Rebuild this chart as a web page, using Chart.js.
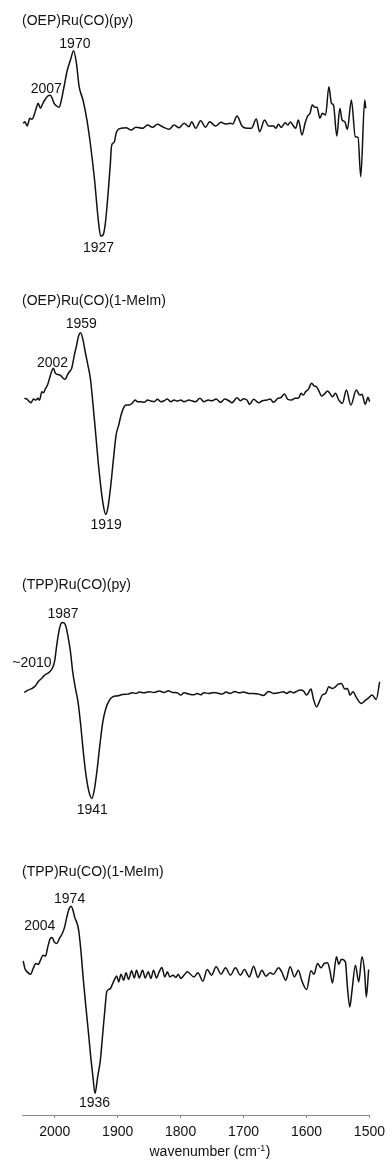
<!DOCTYPE html>
<html>
<head>
<meta charset="utf-8">
<title>Ru carbonyl porphyrin IR difference spectra</title>
<script src="https://cdn.jsdelivr.net/npm/chart.js@4.4.1/dist/chart.umd.min.js"></script>
<style>
  html, body { margin: 0; padding: 0; background: #fff; }
  #wrap { width: 391px; height: 1160px; }
</style>
</head>
<body>
<div id="wrap"><canvas id="irChart" width="391" height="1160"></canvas></div>
<script>
/* ---------- data ---------- */
const names = ['(OEP)Ru(CO)(py)', '(OEP)Ru(CO)(1-MeIm)', '(TPP)Ru(CO)(py)', '(TPP)Ru(CO)(1-MeIm)'];
const xTicks = [2000, 1900, 1800, 1700, 1600, 1500];

// wavenumber (cm-1) / difference intensity (arb. units)
const s1Wn = [
	2050.1, 2047.4, 2043.8, 2039.5, 2035.9, 2032.7, 2028.9, 2026.4, 2022.6, 2019.4,
	2015.8, 2011.0, 2007.0, 2004.0, 2001.1, 1996.8, 1993.2, 1989.4, 1984.7, 1980.0,
	1975.0, 1970.0, 1965.5, 1961.2, 1955.1, 1948.8, 1942.8, 1936.7, 1930.8, 1927.0,
	1923.2, 1919.6, 1915.2, 1911.6, 1909.9, 1907.9, 1905.2, 1902.5, 1898.9, 1894.6,
	1886.7, 1878.8, 1870.9, 1860.5, 1852.6, 1844.7, 1836.8, 1828.9, 1818.3, 1810.4,
	1802.5, 1794.6, 1786.6, 1782.4, 1776.1, 1768.2, 1760.3, 1754.0, 1744.5, 1735.7,
	1728.7, 1720.8, 1717.2, 1710.4, 1702.5, 1694.6, 1687.6, 1679.7, 1674.5, 1666.6,
	1660.3, 1652.4, 1648.8, 1644.5, 1640.2, 1633.9, 1629.8, 1625.5, 1621.9, 1617.2,
	1612.9, 1607.1, 1602.3, 1598.2, 1594.4, 1590.8, 1586.5, 1583.3, 1578.6, 1575.0,
	1569.7, 1564.4, 1560.3, 1557.1, 1551.8, 1547.0, 1543.4, 1539.1, 1535.0, 1528.7,
	1522.4, 1518.1, 1513.8, 1507.5, 1505.9
];
const s1Val = [
	3.7, 5.3, 1.0, 8.7, 7.7, 12.0, 19.7, 23.7, 18.7, 23.0,
	27.0, 31.0, 31.7, 28.7, 23.7, 21.0, 19.7, 27.0, 42.0, 57.0,
	67.0, 76.3, 63.7, 40.3, 27.0, 7.0, -19.7, -53.0, -93.0, -109.0,
	-108.0, -96.3, -66.3, -36.3, -19.7, -16.3, -14.7, -6.3, -2.3, -1.3,
	-0.7, -3.0, -0.3, -1.3, 2.0, -0.3, 2.7, 0.3, -2.3, 2.0,
	-0.7, 3.7, 0.3, 5.3, -1.3, 6.3, -0.3, 5.3, 1.0, 4.7,
	3.0, 3.7, 3.0, 11.0, 1.0, -1.3, -1.3, 8.0, -4.7, 7.0,
	1.0, 1.0, -1.3, 2.7, -0.3, 4.3, 2.0, 5.0, 2.0, -1.3,
	7.0, -8.0, 3.7, 11.0, 13.7, 22.0, 19.7, 19.7, 8.7, 13.7,
	12.0, 40.3, 23.7, 22.0, -9.0, 18.7, 7.0, 5.3, -2.3, 27.0,
	-9.7, -10.3, -49.7, 27.0, 18.7
];

const s2Wn = [
	2048.3, 2044.2, 2037.9, 2033.6, 2030.0, 2026.8, 2024.1, 2020.5, 2017.8, 2015.1,
	2011.5, 2008.3, 2004.7, 2002.0, 1999.3, 1995.7, 1991.4, 1987.3, 1983.5, 1979.9,
	1976.7, 1973.1, 1968.8, 1965.2, 1962.5, 1959.0, 1955.6, 1951.6, 1947.3, 1943.4,
	1939.1, 1935.2, 1931.0, 1927.1, 1922.9, 1919.0, 1915.3, 1910.9, 1906.6, 1902.5,
	1898.4, 1894.6, 1891.0, 1886.7, 1881.5, 1877.2, 1872.0, 1868.4, 1863.0, 1857.8,
	1852.6, 1847.2, 1842.0, 1836.8, 1831.4, 1826.2, 1821.0, 1815.6, 1810.4, 1805.2,
	1799.8, 1794.6, 1786.7, 1781.5, 1776.1, 1769.3, 1763.0, 1756.2, 1749.9, 1743.6,
	1736.6, 1729.8, 1723.5, 1718.3, 1710.4, 1705.0, 1699.8, 1694.6, 1690.3, 1684.0,
	1676.1, 1669.8, 1663.0, 1657.6, 1652.4, 1645.6, 1640.2, 1635.0, 1629.8, 1623.5,
	1618.1, 1612.9, 1608.6, 1605.0, 1601.4, 1597.1, 1591.9, 1587.6, 1584.0, 1579.7,
	1576.1, 1570.7, 1566.6, 1562.9, 1558.7, 1554.0, 1548.6, 1542.9, 1536.6, 1529.6,
	1520.8, 1515.4, 1511.8, 1506.6, 1502.3, 1499.6
];
const s2Val = [
	2.7, 2.0, -1.7, 2.0, 1.0, 2.7, 1.0, 9.3, 8.3, 12.0,
	16.0, 22.7, 30.0, 32.7, 28.3, 26.7, 26.0, 23.3, 21.7, 26.0,
	29.3, 32.7, 46.0, 56.0, 64.3, 68.3, 62.7, 49.3, 36.0, 22.7,
	-4.0, -30.7, -60.7, -84.0, -104.0, -113.3, -105.7, -84.0, -57.3, -34.0,
	-24.0, -14.0, -7.3, -4.0, -4.0, -2.3, 1.0, -0.7, -0.7, -1.3,
	1.0, 0.0, -0.7, 1.7, -0.7, 0.3, 2.0, -0.7, 1.0, 0.0,
	1.0, -0.7, 1.0, 0.0, -0.7, 2.7, -0.7, 1.0, 0.3, 2.0,
	-1.3, 2.0, 0.3, -1.7, 3.3, 0.3, 2.3, 1.0, -3.3, 1.7,
	-1.7, 0.3, 1.0, 2.0, -1.3, 2.7, 3.7, 7.0, 1.7, 1.0,
	2.7, 2.7, 7.7, 6.0, 9.3, 11.7, 17.7, 15.0, 14.3, 9.3,
	5.0, 7.7, 10.0, 7.7, 4.3, 7.7, 1.0, -2.3, 11.0, -4.0,
	11.0, 6.0, 6.7, -3.3, 3.7, -0.7
];

const s3Wn = [
	2048.5, 2042.2, 2035.9, 2030.5, 2026.4, 2021.0, 2015.8, 2010.0, 2005.7, 2002.6,
	1999.9, 1996.8, 1993.5, 1989.9, 1987.0, 1982.9, 1979.3, 1975.0, 1971.4, 1967.1,
	1963.0, 1958.7, 1954.6, 1950.3, 1945.6, 1941.0, 1937.2, 1933.1, 1928.3, 1923.6,
	1918.8, 1913.1, 1907.9, 1900.0, 1892.1, 1884.2, 1876.3, 1870.9, 1865.7, 1857.8,
	1849.9, 1842.0, 1834.1, 1826.2, 1819.4, 1813.1, 1805.2, 1799.8, 1794.6, 1786.7,
	1778.8, 1773.6, 1768.2, 1763.0, 1755.1, 1747.2, 1739.3, 1734.1, 1727.8, 1720.8,
	1714.0, 1707.7, 1699.8, 1691.9, 1684.0, 1676.1, 1668.2, 1660.3, 1652.4, 1644.5,
	1636.6, 1631.4, 1626.0, 1620.8, 1615.6, 1610.2, 1605.0, 1599.8, 1592.8, 1589.2,
	1584.0, 1579.7, 1575.0, 1569.7, 1564.4, 1559.2, 1554.9, 1549.7, 1544.5, 1539.1,
	1535.0, 1530.7, 1526.0, 1520.8, 1512.9, 1507.5, 1502.3, 1495.5, 1489.2, 1483.8
];
const s3Val = [
	0.7, 3.0, 4.7, 7.3, 11.3, 14.7, 18.0, 20.3, 23.0, 26.3,
	33.0, 48.0, 61.3, 69.7, 70.7, 68.0, 58.0, 41.3, 21.3, 4.7,
	-8.7, -32.0, -58.7, -82.0, -98.7, -105.3, -97.0, -78.7, -52.0, -28.7,
	-15.3, -7.0, -3.7, -2.7, -1.3, -1.0, 0.3, -0.3, 1.0, 0.3,
	1.3, 0.7, 2.0, 0.7, 2.3, 0.7, 0.3, -2.0, 0.3, -1.0,
	-1.7, -0.3, -1.7, 0.3, -0.3, 0.7, -0.3, -1.0, 1.0, -0.3,
	1.7, 0.3, 1.0, -0.3, -0.3, -1.0, -2.3, 1.7, -0.3, 0.3,
	1.3, -0.3, 1.7, 0.3, 1.7, 3.0, 2.3, -2.0, 4.0, -5.3,
	-13.7, -8.7, -2.0, -0.3, 6.3, 4.7, 5.7, 9.0, 9.7, 4.0,
	4.7, -2.0, 1.3, -4.3, -10.3, -7.7, -5.3, -2.0, -6.3, 11.3
];

const s4Wn = [
	2050.1, 2047.4, 2043.8, 2038.4, 2034.3, 2030.0, 2026.4, 2022.6, 2018.5, 2014.7,
	2011.0, 2007.0, 2004.0, 2000.8, 1996.5, 1992.5, 1988.0, 1984.2, 1980.7, 1977.0,
	1974.0, 1971.0, 1968.5, 1964.5, 1962.0, 1958.5, 1954.5, 1950.5, 1946.3, 1942.8,
	1939.3, 1936.0, 1931.8, 1927.5, 1923.7, 1919.9, 1917.4, 1914.2, 1911.5, 1907.9,
	1904.1, 1901.6, 1898.4, 1894.6, 1890.5, 1886.7, 1882.6, 1877.9, 1873.6, 1870.0,
	1865.7, 1860.5, 1856.2, 1851.5, 1847.2, 1843.1, 1838.4, 1834.1, 1829.8, 1825.1,
	1821.0, 1817.2, 1812.0, 1807.7, 1803.6, 1799.8, 1794.6, 1789.4, 1778.8, 1772.5,
	1764.6, 1757.8, 1750.8, 1743.6, 1735.7, 1728.7, 1720.8, 1712.9, 1705.0, 1698.7,
	1690.8, 1684.0, 1677.2, 1670.9, 1664.6, 1657.6, 1652.4, 1644.5, 1639.3, 1632.9,
	1626.0, 1619.2, 1612.9, 1607.7, 1599.8, 1592.8, 1588.1, 1582.4, 1577.0, 1571.8,
	1566.6, 1562.9, 1558.7, 1552.4, 1548.6, 1544.5, 1538.2, 1535.0, 1531.2, 1527.6,
	1522.3, 1517.0, 1511.8, 1507.5, 1505.0, 1501.2
];
const s4Val = [
	13.3, 5.7, 2.3, 0.0, 5.7, 10.7, 9.7, 14.0, 19.0, 18.0,
	27.3, 35.7, 36.7, 32.3, 30.7, 35.7, 40.7, 47.3, 57.3, 65.7,
	68.0, 64.0, 57.3, 50.7, 44.0, 24.0, -6.0, -32.7, -59.3, -82.7,
	-102.7, -119.3, -102.7, -86.0, -59.3, -32.7, -17.7, -15.3, -14.3, -9.3,
	-4.3, -1.7, -7.7, 0.0, -6.0, 1.3, -5.3, 3.3, -3.7, 4.0,
	-3.7, 4.0, -3.7, 2.3, -4.3, 4.0, -3.7, 2.3, 6.7, -2.7,
	2.3, -2.7, -1.0, -3.3, 0.0, -4.3, -1.0, 2.3, -2.7, 1.3,
	-7.0, 4.7, -1.0, 7.3, 0.0, 6.3, -1.0, 6.3, -1.0, 4.7,
	-2.7, 8.0, -3.3, 4.0, -2.0, 1.3, 0.0, 6.3, 2.3, -6.0,
	7.3, -2.7, 4.0, -6.0, -15.3, 3.3, 0.0, 10.7, 6.3, 10.7,
	11.3, 4.0, -8.7, 17.3, 9.7, 15.0, 12.3, -12.7, -32.7, -16.0,
	9.0, -7.7, 17.3, 0.7, -22.7, 4.7
];

// band positions that get a label (cm-1)
const marks1 = [2007, 1970, 1927];
const marks2 = [2002, 1959, 1919];
const marks3 = [2010, 1987, 1941];
const marks4 = [2004, 1974, 1936];
const markText3 = ['~2010', '1987', '1941'];

/* ---------- layout ---------- */
const FONT = '"Liberation Sans", Arial, Helvetica, sans-serif';
const INK = '#111';
const stackBase = [988, 714, 422, 141];       // vertical offset of each trace
const titleDy = [-102.5, -96.5, -104, -98];   // name baseline, px from trace zero
const markNudge = [                           // label centre/baseline, px from band point
	[[-4, -2], [1.3, -2.4], [-2.2, 15.7]],
	[[-1, -1.6], [0.7, -4.4], [0.4, 14.7]],
	[[-16.5, -5.4], [0.1, -4], [0.4, 16]],
	[[-12.5, -7.3], [-1.5, -3.3], [-0.5, 13.4]]
];

const spectra = [
	{ name: names[0], wn: s1Wn, val: s1Val, marks: marks1, text: marks1.map(String) },
	{ name: names[1], wn: s2Wn, val: s2Val, marks: marks2, text: marks2.map(String) },
	{ name: names[2], wn: s3Wn, val: s3Val, marks: marks3, text: markText3 },
	{ name: names[3], wn: s4Wn, val: s4Val, marks: marks4, text: marks4.map(String) }
];

function nearestIndex(arr, v) {
	let best = 0;
	arr.forEach((a, i) => { if (Math.abs(a - v) < Math.abs(arr[best] - v)) best = i; });
	return best;
}

/* ---------- names, band labels, axis title ---------- */
const bandLabels = {
	id: 'bandLabels',
	afterDatasetsDraw(chart) {
		const { ctx, chartArea } = chart;
		const x = chart.scales.x, y = chart.scales.y;
		ctx.save();
		ctx.fillStyle = INK;
		ctx.textBaseline = 'alphabetic';
		ctx.font = `14px ${FONT}`;

		spectra.forEach((s, i) => {
			const base = stackBase[i];
			ctx.textAlign = 'left';
			ctx.fillText(s.name, chartArea.left, y.getPixelForValue(base) + titleDy[i]);

			ctx.textAlign = 'center';
			s.marks.forEach((wn, j) => {
				const k = nearestIndex(s.wn, wn);
				const px = x.getPixelForValue(s.wn[k]);
				const py = y.getPixelForValue(s.val[k] + base);
				const [dx, dy] = markNudge[i][j];
				ctx.fillText(s.text[j], px + dx, py + dy);
			});
		});

		// wavenumber (cm-1) with a raised -1
		const a = 'wavenumber (cm', sup = '-1', b = ')';
		ctx.font = `14px ${FONT}`;
		const wa = ctx.measureText(a).width, wb = ctx.measureText(b).width;
		ctx.font = `9px ${FONT}`;
		const ws = ctx.measureText(sup).width;
		const cx = chart.width / 2 + 14;
		const by = chartArea.bottom + 41;
		let left = cx - (wa + ws + wb) / 2;
		ctx.textAlign = 'left';
		ctx.font = `14px ${FONT}`;
		ctx.fillText(a, left, by);
		ctx.font = `9px ${FONT}`;
		ctx.fillText(sup, left + wa + 0.5, by - 5);
		ctx.font = `14px ${FONT}`;
		ctx.fillText(b, left + wa + ws + 1, by);
		ctx.restore();
	}
};

/* ---------- chart ---------- */
window.addEventListener('DOMContentLoaded', function() {
	const ctx = document.getElementById('irChart').getContext('2d');
	new Chart(ctx, {
		type: 'line',
		data: {
			datasets: spectra.map((s, i) => ({
				label: s.name,
				data: s.wn.map((w, k) => ({ x: w, y: s.val[k] + stackBase[i] })),
				borderColor: INK,
				borderWidth: 1.5,
				pointRadius: 0,
				fill: false,
				clip: false,
				cubicInterpolationMode: 'monotone'
			}))
		},
		options: {
			responsive: false,
			devicePixelRatio: 1,
			animation: false,
			events: [],
			layout: { padding: { left: 22, right: 19.5, top: 0, bottom: 13 } },
			plugins: { legend: { display: false }, tooltip: { enabled: false } },
			scales: {
				x: {
					type: 'linear',
					reverse: true,
					min: 1500,
					max: 2052,
					afterBuildTicks: sc => { sc.ticks = xTicks.map(v => ({ value: v })); },
					grid: { display: true, drawOnChartArea: false, drawTicks: true, tickLength: 3, color: '#8a8a8a' },
					border: { display: true, color: '#8a8a8a', width: 1 },
					ticks: {
						color: INK, font: { family: FONT, size: 14 }, padding: 6,
						maxRotation: 0, autoSkip: false,
						callback: v => String(v)
					}
				},
				y: { display: false, min: 0, max: 1115 }
			}
		},
		plugins: [bandLabels]
	});
});
</script>
</body>
</html>
